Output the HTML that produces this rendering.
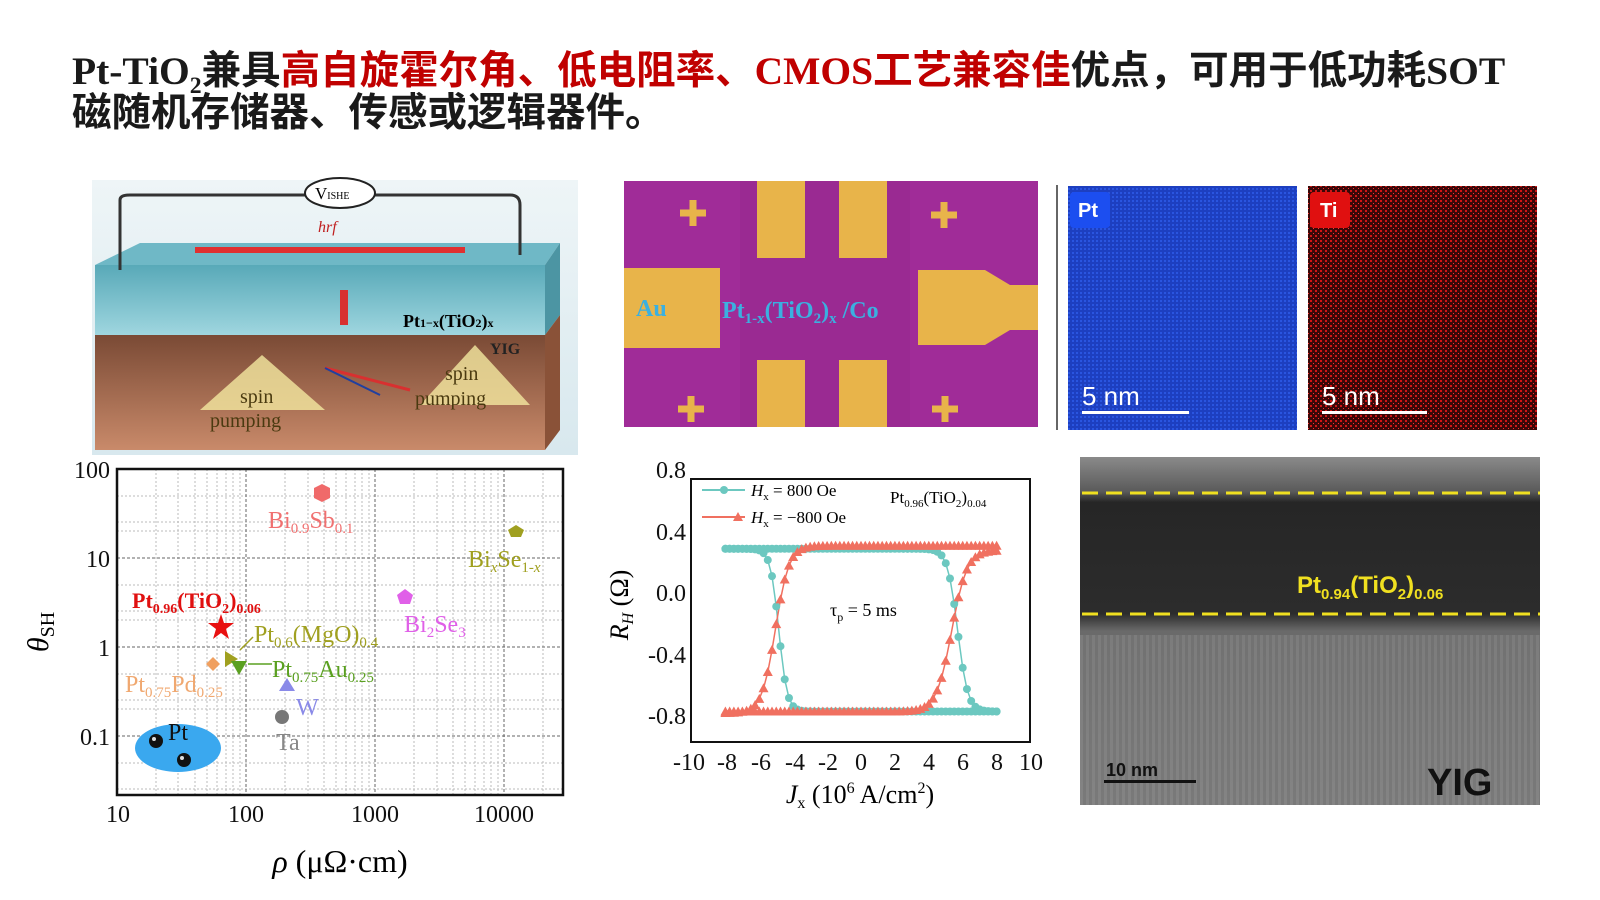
<!DOCTYPE html>
<html><head><meta charset="utf-8"><style>
body{margin:0;width:1600px;height:900px;background:#fff;overflow:hidden;position:relative;font-family:"Liberation Serif","Noto Serif CJK SC",serif}
.t{position:absolute;left:72px;font-weight:bold;font-size:39.5px;white-space:nowrap;color:#1a1a1a;font-family:"Liberation Serif","Noto Sans CJK SC",sans-serif;line-height:1}
.t .c{font-family:"Noto Sans CJK SC",sans-serif}
.r{color:#c00000}
sub{font-size:60%}
</style></head><body>
<div class="t" style="top:48px">Pt-TiO<sub>2</sub><span class="c">兼具</span><span class="r"><span class="c">高自旋霍尔角、低电阻率、</span>CMOS<span class="c">工艺兼容佳</span></span><span class="c">优点，可用于低功耗</span>SOT</div>
<div class="t c" style="top:94px">磁随机存储器、传感或逻辑器件。</div>

<svg width="1600" height="900" style="position:absolute;left:0;top:0" font-family="Liberation Serif, serif">
<defs>
<linearGradient id="bg1" x1="0" y1="0" x2="0" y2="1"><stop offset="0" stop-color="#eef5f7"/><stop offset="1" stop-color="#d8e8ee"/></linearGradient>
<linearGradient id="br" x1="0" y1="0" x2="0" y2="1"><stop offset="0" stop-color="#7a4a35"/><stop offset="1" stop-color="#c98a6a"/></linearGradient>
<linearGradient id="tl" x1="0" y1="0" x2="0" y2="1"><stop offset="0" stop-color="#58a9b8"/><stop offset="1" stop-color="#9fd6df"/></linearGradient>
<linearGradient id="tem" x1="0" y1="0" x2="0" y2="1"><stop offset="0" stop-color="#8a8a8a"/><stop offset="0.1" stop-color="#5a5a5a"/><stop offset="0.13" stop-color="#262626"/><stop offset="0.45" stop-color="#2c2c2c"/><stop offset="0.5" stop-color="#6a6a6a"/><stop offset="1" stop-color="#7c7c7c"/></linearGradient>
<pattern id="lat" width="6" height="6" patternUnits="userSpaceOnUse"><rect width="6" height="6" fill="#777"/><rect width="3" height="6" fill="#8a8a8a"/></pattern>
<pattern id="bl" width="4" height="4" patternUnits="userSpaceOnUse"><rect width="4" height="4" fill="#1d3fc0"/><rect width="2" height="2" fill="#2a55e0"/></pattern>
<pattern id="rd" width="5" height="5" patternUnits="userSpaceOnUse"><rect width="5" height="5" fill="#3a0808"/><rect width="2" height="2" fill="#d01515"/><rect x="3" y="3" width="1" height="1" fill="#ff3030"/></pattern>
</defs>
<rect x="92" y="180" width="486" height="275" fill="url(#bg1)"/>
<polygon points="95,265 140,243 560,243 545,265" fill="#6fb8c6"/>
<rect x="95" y="265" width="450" height="70" fill="url(#tl)"/>
<polygon points="545,265 560,243 560,315 545,335" fill="#4c95a3"/>
<rect x="95" y="335" width="450" height="115" fill="url(#br)"/>
<polygon points="545,335 560,315 560,430 545,450" fill="#8a5238"/>
<path d="M120,270 V200 Q120,195 130,195 H305 M375,195 H510 Q520,195 520,205 V255" stroke="#333" stroke-width="3" fill="none"/>
<ellipse cx="340" cy="193" rx="35" ry="15" fill="#fff" stroke="#222" stroke-width="2"/>
<text x="315" y="199" font-size="17">V<tspan font-size="10">ISHE</tspan></text>
<rect x="195" y="247" width="270" height="6" fill="#e03030"/>
<text x="318" y="232" font-size="16" font-style="italic" fill="#c02020">hrf</text>
<rect x="340" y="290" width="8" height="35" fill="#d83030"/>
<text x="403" y="327" font-size="18" font-weight="bold">Pt<tspan font-size="12">1−x</tspan>(TiO<tspan font-size="12">2</tspan>)<tspan font-size="12">x</tspan></text>
<text x="490" y="354" font-size="16" font-weight="bold" fill="#222">YIG</text>
<polygon points="240,410 200,410 262,355 325,410 285,410" fill="#f4e9a0" opacity="0.8"/>
<polygon points="450,405 420,405 475,345 530,405 500,405" fill="#f4e9a0" opacity="0.8"/>
<text x="240" y="403" font-size="20" fill="#4a3a10">spin</text><text x="210" y="427" font-size="20" fill="#4a3a10">pumping</text>
<text x="445" y="380" font-size="20" fill="#4a3a10">spin</text><text x="415" y="405" font-size="20" fill="#4a3a10">pumping</text>
<line x1="325" y1="368" x2="410" y2="390" stroke="#d83030" stroke-width="3"/>
<line x1="325" y1="368" x2="380" y2="395" stroke="#2040a0" stroke-width="2"/>

<g stroke="#bbb" stroke-width="1" stroke-dasharray="2,2">
<line x1="156" y1="469" x2="156" y2="795"/><line x1="178" y1="469" x2="178" y2="795"/><line x1="195" y1="469" x2="195" y2="795"/><line x1="207" y1="469" x2="207" y2="795"/><line x1="217" y1="469" x2="217" y2="795"/><line x1="226" y1="469" x2="226" y2="795"/><line x1="233" y1="469" x2="233" y2="795"/><line x1="240" y1="469" x2="240" y2="795"/>
<line x1="285" y1="469" x2="285" y2="795"/><line x1="308" y1="469" x2="308" y2="795"/><line x1="324" y1="469" x2="324" y2="795"/><line x1="336" y1="469" x2="336" y2="795"/><line x1="346" y1="469" x2="346" y2="795"/><line x1="355" y1="469" x2="355" y2="795"/><line x1="362" y1="469" x2="362" y2="795"/><line x1="369" y1="469" x2="369" y2="795"/>
<line x1="414" y1="469" x2="414" y2="795"/><line x1="437" y1="469" x2="437" y2="795"/><line x1="453" y1="469" x2="453" y2="795"/><line x1="465" y1="469" x2="465" y2="795"/><line x1="475" y1="469" x2="475" y2="795"/><line x1="484" y1="469" x2="484" y2="795"/><line x1="491" y1="469" x2="491" y2="795"/><line x1="498" y1="469" x2="498" y2="795"/>
<line x1="543" y1="469" x2="543" y2="795"/>
<line x1="117" y1="496" x2="563" y2="496"/><line x1="117" y1="522" x2="563" y2="522"/><line x1="117" y1="531" x2="563" y2="531"/>
<line x1="117" y1="585" x2="563" y2="585"/><line x1="117" y1="611" x2="563" y2="611"/><line x1="117" y1="620" x2="563" y2="620"/>
<line x1="117" y1="674" x2="563" y2="674"/><line x1="117" y1="700" x2="563" y2="700"/><line x1="117" y1="709" x2="563" y2="709"/>
<line x1="117" y1="763" x2="563" y2="763"/><line x1="117" y1="789" x2="563" y2="789"/>
</g>
<g stroke="#666" stroke-width="1" stroke-dasharray="3,2">
<line x1="246" y1="469" x2="246" y2="795"/><line x1="375" y1="469" x2="375" y2="795"/><line x1="504" y1="469" x2="504" y2="795"/>
<line x1="117" y1="558" x2="563" y2="558"/><line x1="117" y1="647" x2="563" y2="647"/><line x1="117" y1="736" x2="563" y2="736"/>
</g>
<rect x="117" y="469" width="446" height="326" fill="none" stroke="#111" stroke-width="2.5"/>
<g font-size="24" fill="#111" text-anchor="end"><text x="110" y="478">100</text><text x="110" y="567">10</text><text x="110" y="656">1</text><text x="110" y="745">0.1</text></g>
<g font-size="24" fill="#111" text-anchor="middle"><text x="118" y="822">10</text><text x="246" y="822">100</text><text x="375" y="822">1000</text><text x="504" y="822">10000</text></g>
<text x="340" y="872" font-size="32" text-anchor="middle"><tspan font-style="italic">ρ</tspan> (μΩ·cm)</text>
<text transform="translate(48,632) rotate(-90)" font-size="30" text-anchor="middle"><tspan font-style="italic">θ</tspan><tspan font-size="20" dy="6">SH</tspan></text>
<ellipse cx="178" cy="748" rx="43" ry="24" fill="#3aa8ef"/>
<circle cx="156" cy="741" r="7" fill="#111"/><circle cx="184" cy="760" r="7" fill="#111"/>
<circle cx="154" cy="739" r="2" fill="#ddd"/><circle cx="182" cy="758" r="2" fill="#ddd"/>
<text x="168" y="740" font-size="24" fill="#111">Pt</text>
<polygon points="322,484 330,488 330,498 322,502 314,498 314,488" fill="#f06a6a"/>
<text x="268" y="528" font-size="24" fill="#f07070">Bi<tspan font-size="15" dy="5">0.9</tspan><tspan dy="-5">Sb</tspan><tspan font-size="15" dy="5">0.1</tspan></text>
<polygon points="516,525 524,530 521,537 511,537 508,530" fill="#a0a020"/>
<text x="468" y="567" font-size="24" fill="#a0a020">Bi<tspan font-size="15" dy="5" font-style="italic">x</tspan><tspan dy="-5">Se</tspan><tspan font-size="15" dy="5">1-<tspan font-style="italic">x</tspan></tspan></text>
<polygon points="405,589 413,595 410,604 400,604 397,595" fill="#e060e8"/>
<text x="404" y="632" font-size="24" fill="#e060e8">Bi<tspan font-size="15" dy="5">2</tspan><tspan dy="-5">Se</tspan><tspan font-size="15" dy="5">3</tspan></text>
<text x="132" y="608" font-size="22" font-weight="bold" fill="#e01010">Pt<tspan font-size="14" dy="5">0.96</tspan><tspan dy="-5">(TiO</tspan><tspan font-size="14" dy="5">2</tspan><tspan dy="-5">)</tspan><tspan font-size="14" dy="5">0.06</tspan></text>
<polygon points="221,614 224,623 234,623 226,629 229,639 221,633 213,639 216,629 208,623 218,623" fill="#e81010"/>
<polygon points="213,657 220,664 213,671 206,664" fill="#f0a060"/>
<polygon points="225,651 238,659 225,667" fill="#a0a020"/>
<polygon points="231,661 247,661 239,675" fill="#5aa020"/>
<line x1="253" y1="637" x2="240" y2="650" stroke="#a0a020" stroke-width="1.5"/>
<line x1="272" y1="664" x2="248" y2="664" stroke="#5aa020" stroke-width="1.5"/>
<text x="254" y="642" font-size="24" fill="#a0a020">Pt<tspan font-size="15" dy="5">0.6</tspan><tspan dy="-5">(MgO)</tspan><tspan font-size="15" dy="5">0.4</tspan></text>
<text x="272" y="677" font-size="24" fill="#5aa020">Pt<tspan font-size="15" dy="5">0.75</tspan><tspan dy="-5">Au</tspan><tspan font-size="15" dy="5">0.25</tspan></text>
<text x="125" y="692" font-size="24" fill="#f0a870">Pt<tspan font-size="15" dy="5">0.75</tspan><tspan dy="-5">Pd</tspan><tspan font-size="15" dy="5">0.25</tspan></text>
<polygon points="287,678 295,691 279,691" fill="#8a8ae8"/>
<text x="296" y="715" font-size="24" fill="#8a8ae8">W</text>
<circle cx="282" cy="717" r="7" fill="#777"/>
<text x="276" y="750" font-size="24" fill="#888">Ta</text>

<rect x="691" y="479" width="339" height="263" fill="none" stroke="#111" stroke-width="2"/>
<g font-size="24" fill="#111" text-anchor="end"><text x="686" y="478">0.8</text><text x="686" y="540">0.4</text><text x="686" y="601">0.0</text><text x="686" y="663">-0.4</text><text x="686" y="724">-0.8</text></g>
<g font-size="24" fill="#111" text-anchor="middle"><text x="689" y="770">-10</text><text x="727" y="770">-8</text><text x="761" y="770">-6</text><text x="795" y="770">-4</text><text x="828" y="770">-2</text><text x="861" y="770">0</text><text x="895" y="770">2</text><text x="929" y="770">4</text><text x="963" y="770">6</text><text x="997" y="770">8</text><text x="1031" y="770">10</text></g>
<text x="860" y="803" font-size="26" text-anchor="middle"><tspan font-style="italic">J</tspan><tspan font-size="16" dy="5">x</tspan><tspan dy="-5"> (10</tspan><tspan font-size="16" dy="-10">6</tspan><tspan dy="10"> A/cm</tspan><tspan font-size="16" dy="-10">2</tspan><tspan dy="10">)</tspan></text>
<text transform="translate(628,605) rotate(-90)" font-size="26" text-anchor="middle"><tspan font-style="italic">R</tspan><tspan font-size="16" dy="5" font-style="italic">H</tspan><tspan dy="-5"> (Ω)</tspan></text>
<line x1="702" y1="490" x2="745" y2="490" stroke="#6cc8c0" stroke-width="2"/><circle cx="724" cy="490" r="4" fill="#6cc8c0"/>
<text x="751" y="496" font-size="17"><tspan font-style="italic">H</tspan><tspan font-size="11" dy="4">x</tspan><tspan dy="-4"> = 800 Oe</tspan></text>
<line x1="702" y1="517" x2="745" y2="517" stroke="#f07060" stroke-width="2"/><polygon points="738,512 743,521 733,521" fill="#f07060"/>
<text x="751" y="523" font-size="17"><tspan font-style="italic">H</tspan><tspan font-size="11" dy="4">x</tspan><tspan dy="-4"> = −800 Oe</tspan></text>
<text x="890" y="503" font-size="17">Pt<tspan font-size="11" dy="4">0.96</tspan><tspan dy="-4">(TiO</tspan><tspan font-size="11" dy="4">2</tspan><tspan dy="-4">)</tspan><tspan font-size="11" dy="4">0.04</tspan></text>
<text x="830" y="616" font-size="18">τ<tspan font-size="12" dy="5">p</tspan><tspan dy="-5"> = 5 ms</tspan></text>
<g id="hy"></g>

<rect x="624" y="181" width="414" height="246" fill="#a02c98"/>
<rect x="740" y="181" width="170" height="246" fill="#9a2a92"/>
<g fill="#e8b44a">
<rect x="624" y="268" width="96" height="80"/>
<polygon points="918,270 985,270 1010,285 1038,285 1038,330 1010,330 985,345 918,345"/>
<rect x="757" y="181" width="48" height="77"/><rect x="839" y="181" width="48" height="77"/>
<rect x="757" y="360" width="48" height="67"/><rect x="839" y="360" width="48" height="67"/>
<path d="M693,200v26M680,213h26M944,202v26M931,215h26M691,396v26M678,409h26M945,396v26M932,409h26" stroke="#e8b44a" stroke-width="7"/>
</g>
<text x="636" y="316" font-size="24" font-weight="bold" fill="#3bb0e0">Au</text>
<text x="722" y="318" font-size="24" font-weight="bold" fill="#3bb0e0">Pt<tspan font-size="15" dy="5">1-x</tspan><tspan dy="-5">(TiO</tspan><tspan font-size="15" dy="5">2</tspan><tspan dy="-5">)</tspan><tspan font-size="15" dy="5">x</tspan><tspan dy="-5"> /Co</tspan></text>
<line x1="1057" y1="185" x2="1057" y2="430" stroke="#666" stroke-width="2"/>
<rect x="1068" y="186" width="229" height="244" fill="url(#bl)"/>
<rect x="1308" y="186" width="229" height="244" fill="url(#rd)"/>
<rect x="1070" y="192" width="40" height="36" rx="4" fill="#1c4ef0"/><text x="1078" y="217" font-size="20" font-weight="bold" fill="#fff" font-family="Liberation Sans, sans-serif">Pt</text>
<rect x="1310" y="192" width="40" height="36" rx="4" fill="#e01010"/><text x="1320" y="217" font-size="20" font-weight="bold" fill="#fff" font-family="Liberation Sans, sans-serif">Ti</text>
<text x="1082" y="405" font-size="26" fill="#fff" font-family="Liberation Sans, sans-serif">5 nm</text><rect x="1082" y="411" width="107" height="3" fill="#fff"/>
<text x="1322" y="405" font-size="26" fill="#fff" font-family="Liberation Sans, sans-serif">5 nm</text><rect x="1322" y="411" width="105" height="3" fill="#fff"/>

<rect x="1080" y="457" width="460" height="348" fill="url(#tem)"/>
<rect x="1080" y="635" width="460" height="170" fill="url(#lat)" opacity="0.55"/>
<path d="M1082,493H1540M1082,614H1540" stroke="#f0e020" stroke-width="3" stroke-dasharray="16,8"/>
<text x="1297" y="593" font-size="24" font-weight="bold" fill="#f0e020" font-family="Liberation Sans, sans-serif">Pt<tspan font-size="15" dy="6">0.94</tspan><tspan dy="-6">(TiO</tspan><tspan font-size="15" dy="6">2</tspan><tspan dy="-6">)</tspan><tspan font-size="15" dy="6">0.06</tspan></text>
<text x="1427" y="795" font-size="38" font-weight="bold" fill="#111" font-family="Liberation Sans, sans-serif">YIG</text>
<text x="1106" y="776" font-size="18" font-weight="bold" fill="#111" font-family="Liberation Sans, sans-serif">10 nm</text>
<rect x="1104" y="780" width="92" height="3" fill="#111"/>
</svg>
<script>
(function(){
var g=document.getElementById('hy'),ns='http://www.w3.org/2000/svg';
function X(v){return 861+v*16.95}function Y(v){return 601-v*153.5}
function s(z){return 1/(1+Math.exp(-z))}
var A=[],B=[],C=[],D=[];
for(var x=-8;x<=8.001;x+=0.25){
A.push([x,0.34-1.06*s((x-5.7)/0.3)]);
B.push([x,-0.72+1.06*s(-(x+4.85)/0.25)]);
C.push([x,-0.73+1.09*s((x+5.05)/0.4)]);
D.push([x,-0.72+1.05*s((x-5.35)/0.45)]);}
function line(p,c){var pl=document.createElementNS(ns,'polyline');pl.setAttribute('points',p.map(function(q){return X(q[0])+','+Y(q[1])}).join(' '));pl.setAttribute('fill','none');pl.setAttribute('stroke',c);pl.setAttribute('stroke-width','1.5');g.appendChild(pl);}
line(A,'#6cc8c0');line(B,'#6cc8c0');line(C,'#f07060');line(D,'#f07060');
function cir(p){p.forEach(function(q){var c=document.createElementNS(ns,'circle');c.setAttribute('cx',X(q[0]));c.setAttribute('cy',Y(q[1]));c.setAttribute('r',4);c.setAttribute('fill','#6cc8c0');g.appendChild(c);});}
function tri(p){p.forEach(function(q){var x=X(q[0]),y=Y(q[1]);var t=document.createElementNS(ns,'polygon');t.setAttribute('points',x+','+(y-5)+' '+(x+5)+','+(y+4)+' '+(x-5)+','+(y+4));t.setAttribute('fill','#f07060');g.appendChild(t);});}
cir(A);cir(B);tri(C);tri(D);
})();
</script>
</body></html>
